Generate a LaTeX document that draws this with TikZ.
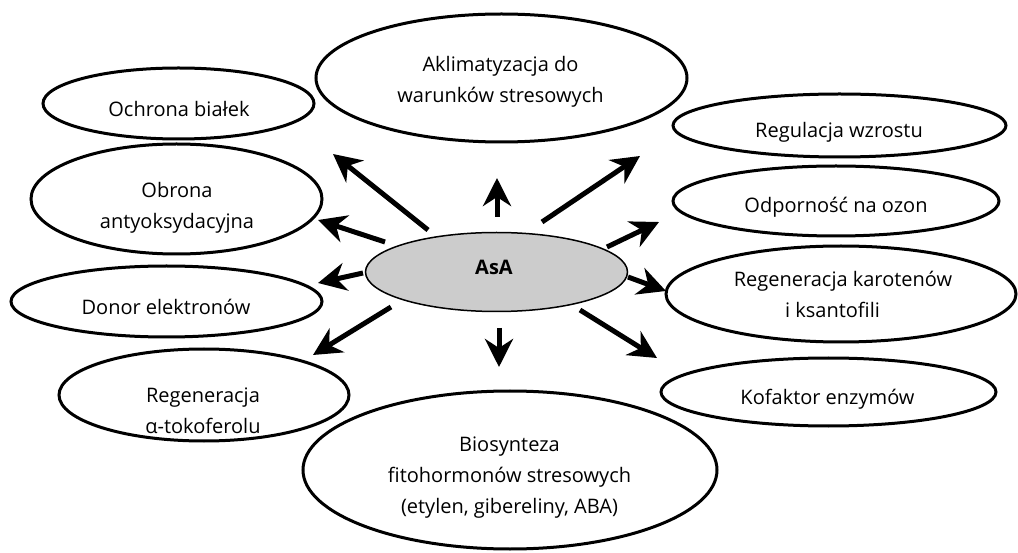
\documentclass[tikz,border=0pt]{standalone}
\usepackage{fontspec}
\setmainfont{Open Sans}
\usetikzlibrary{shapes.geometric,arrows.meta}
\definecolor{asagray}{RGB}{204,204,204}
\begin{document}
\begin{tikzpicture}[x=1pt,y=-1pt,
  oval/.style={ellipse, draw=black, line width=3pt, inner sep=0pt},
  txt/.style={font=\fontsize{20}{31}\selectfont, align=center, inner sep=0pt},
  arr/.style={line width=5pt, -{Stealth[length=28pt,width=28pt,inset=9pt]}}]
\fill[white] (0,0) rectangle (1018,553);
\useasboundingbox (0,0) rectangle (1018,553);

% ellipses
\node[oval, minimum width=271pt, minimum height=71pt]  (ochrona) at (178.5,103.5) {};
\node[oval, minimum width=291pt, minimum height=110pt] (obrona)  at (176.5,199) {};
\node[oval, minimum width=371pt, minimum height=128pt] (aklim)   at (501.5,78) {};
\node[oval, minimum width=333pt, minimum height=63pt]  (regul)   at (839.5,125.5) {};
\node[oval, minimum width=326pt, minimum height=70pt]  (ozon)    at (836,201) {};
\node[oval, minimum width=350pt, minimum height=96pt]  (karot)   at (841,294) {};
\node[oval, minimum width=311pt, minimum height=71pt]  (donor)   at (166.5,301.5) {};
\node[oval, minimum width=290pt, minimum height=92pt]  (tokof)   at (204,395) {};
\node[oval, minimum width=414pt, minimum height=158pt] (biosyn)  at (510,470) {};
\node[oval, minimum width=335pt, minimum height=68pt]  (kofak)   at (828.5,392) {};
\node[ellipse, draw=black, fill=asagray, line width=1.5pt, inner sep=0pt,
      minimum width=262pt, minimum height=79pt] (asa) at (496.5,272) {};

% texts
\node[txt] (t-ochrona) at (179,110.8) {\strut Ochrona białek\strut};
\node[txt] (t-obrona)  at (177,207.3) {\strut Obrona\\antyoksydacyjna\strut};
\node[txt] (t-aklim)   at (500.5,81.3) {\strut Aklimatyzacja do\\warunków stresowych\strut};
\node[txt] (t-regul)   at (839,131.8) {\strut Regulacja wzrostu\strut};
\node[txt] (t-ozon)    at (836,206.8) {\strut Odporność na ozon\strut};
\node[txt] (t-karot)   at (843,296.3) {\strut Regeneracja karotenów\\i ksantofili\hspace*{21pt}\strut};
\node[txt] (t-donor)   at (166,308.8) {\strut Donor elektronów\strut};
\node[txt] (t-tokof)   at (203,411.3) {\strut Regeneracja\\α-tokoferolu\strut};
\node[txt] (t-biosyn)  at (509.5,475.8) {\strut Biosynteza\\fitohormonów stresowych\\(etylen, gibereliny, ABA)\strut};
\node[txt] (t-kofak)   at (827.5,398.8) {\strut Kofaktor enzymów\strut};
\node[txt, font=\fontsize{20}{31}\selectfont\bfseries] (t-asa) at (494,268.8) {\strut AsA\strut};

% arrow end points
\coordinate (a1) at (428,230); \coordinate (b1) at (333,154);
\coordinate (a2) at (385,242); \coordinate (b2) at (318,220);
\coordinate (a3) at (363,273); \coordinate (b3) at (318,283);
\coordinate (a4) at (391,307); \coordinate (b4) at (313,355);
\coordinate (a5) at (499,328); \coordinate (b5) at (499,367);
\coordinate (a6) at (580,310); \coordinate (b6) at (657,358);
\coordinate (a7) at (628,277); \coordinate (b7) at (666,291);
\coordinate (a8) at (607,247); \coordinate (b8) at (659,222);
\coordinate (a9) at (542,222); \coordinate (b9) at (640,156);
\coordinate (a10) at (497,217); \coordinate (b10) at (497,178);

\foreach \i in {1,...,10} {\draw[arr] (a\i) -- (b\i);}
\end{tikzpicture}
\end{document}
